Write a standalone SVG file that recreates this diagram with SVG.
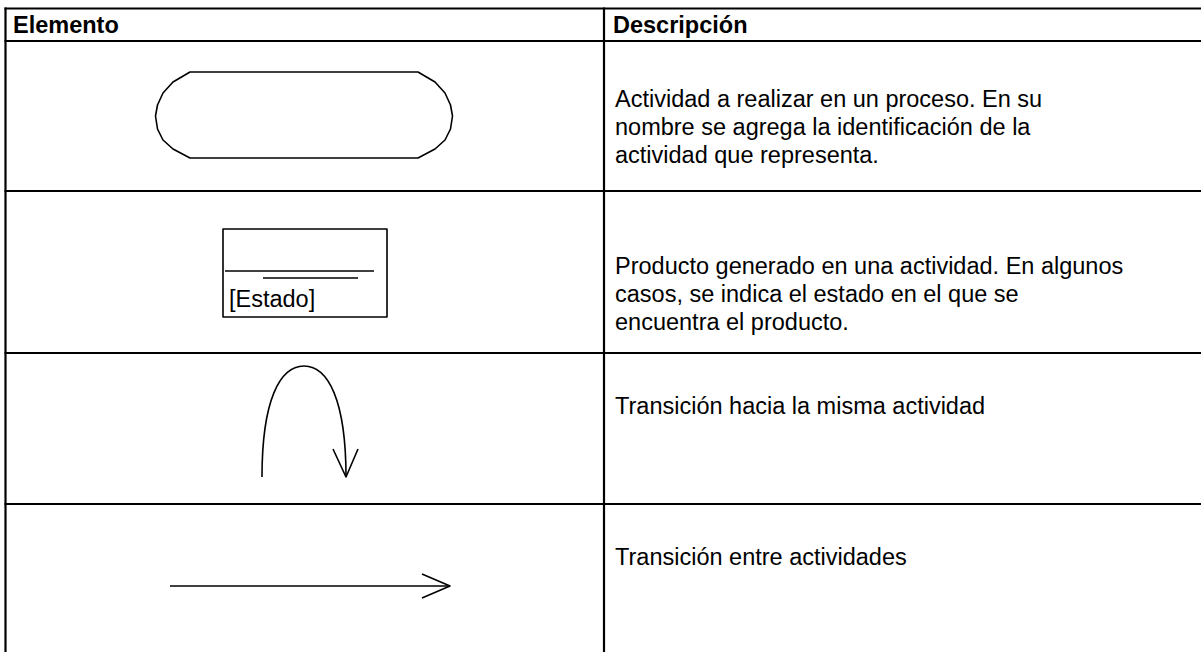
<svg xmlns="http://www.w3.org/2000/svg" width="1201" height="652" viewBox="0 0 1201 652">
<style>
.grid{stroke:#000;stroke-width:2.2;fill:none}
.shape{stroke:#000;stroke-width:1.6;fill:none;stroke-linejoin:round}
.hdr{font-family:"Liberation Sans",Arial,sans-serif;font-weight:bold;font-size:23.5px;fill:#000}
.txt{font-family:"Liberation Sans",Arial,sans-serif;font-size:23.5px;fill:#000}
</style>
<rect width="1201" height="652" fill="#fff"/>
<g id="table" class="grid">
<line x1="4.5" y1="8.5" x2="1201" y2="8.5"/>
<line x1="4.5" y1="41" x2="1201" y2="41"/>
<line x1="4.5" y1="191" x2="1201" y2="191"/>
<line x1="4.5" y1="353" x2="1201" y2="353"/>
<line x1="4.5" y1="504" x2="1201" y2="504"/>
<line x1="5.5" y1="7.5" x2="5.5" y2="652"/>
<line x1="604" y1="7.5" x2="604" y2="652"/>
</g>
<g id="header">
<text class="hdr" x="13" y="33">Elemento</text>
<text class="hdr" x="613" y="33">Descripción</text>
</g>
<g id="activity">
<path class="shape" d="M190,72 H418 L435,82 L445,93 L450.5,105 L452.5,116 L450.5,129 L445,140 L435,149 L418,158 H190 L173,149 L163,140 L157.5,129 L155.5,116 L157.5,105 L163,93 L173,82 Z"/>
</g>
<g id="activity-desc">
<text class="txt" x="615" y="107">Actividad a realizar en un proceso. En su</text>
<text class="txt" x="615" y="135">nombre se agrega la identificación de la</text>
<text class="txt" x="615" y="163">actividad que representa.</text>
</g>
<g id="product">
<rect class="shape" x="223" y="229" width="164" height="88"/>
<line class="shape" x1="225" y1="271" x2="374" y2="271"/>
<line class="shape" x1="263" y1="278" x2="358" y2="278"/>
<text class="txt" x="229" y="307">[Estado]</text>
</g>
<g id="product-desc">
<text class="txt" x="615" y="274">Producto generado en una actividad. En algunos</text>
<text class="txt" x="615" y="302">casos, se indica el estado en el que se</text>
<text class="txt" x="615" y="330">encuentra el producto.</text>
</g>
<g id="self-desc">
<text class="txt" x="615" y="414">Transición hacia la misma actividad</text>
</g>
<g id="between-desc">
<text class="txt" x="615" y="565">Transición entre actividades</text>
</g>
<g id="connectors" class="shape">
<path d="M262,477 C262,400 280,366 304,366 C328,366 346,400 346,477"/>
<polyline points="333,449 346,477 358,449"/>
<line x1="170" y1="586" x2="450" y2="586"/>
<polyline points="422,574 450,586 422,598"/>
</g>
</svg>
